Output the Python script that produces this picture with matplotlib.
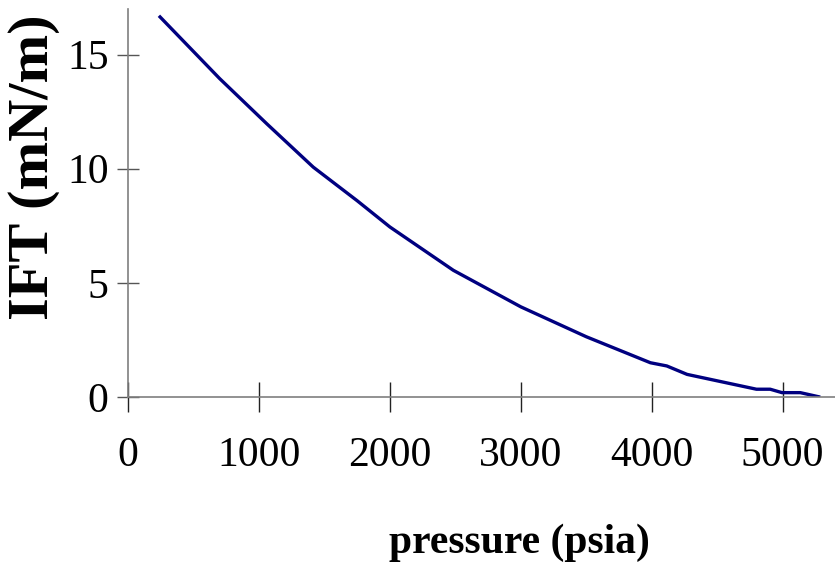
import matplotlib
matplotlib.use('Agg')
import matplotlib.pyplot as plt

# IFT vs pressure
pressure = [245, 700, 1060, 1415, 1750, 2000, 2485, 3000, 3500, 3990,
            4115, 4270, 4800, 4905, 4995, 5135, 5275]
ift = [16.65, 13.95, 11.97, 10.07, 8.6, 7.45, 5.55, 3.95, 2.64, 1.5,
       1.36, 0.99, 0.34, 0.34, 0.19, 0.19, 0.01]
xticks = [0, 1000, 2000, 3000, 4000, 5000]
yticks = [0, 5, 10, 15]

plt.rcParams['font.family'] = ['Liberation Serif', 'DejaVu Serif']

fig = plt.figure(figsize=(8.35, 5.75), dpi=100)
ax = fig.add_axes([0.1533, 0.3096, 0.8467, 0.6748])

ax.plot(pressure, ift, color='#000080', linewidth=2.4)

ax.set_xlim(0, 5400)
ax.set_ylim(0, 17)
ax.set_xticks(xticks)
ax.set_yticks(yticks)

for side in ['top', 'right']:
    ax.spines[side].set_visible(False)
for side in ['left', 'bottom']:
    ax.spines[side].set_color('#7f7f7f')
    ax.spines[side].set_linewidth(1.2)

ax.tick_params(axis='x', direction='inout', length=21.6, width=1.0,
               color='#222222', labelsize=30, pad=18)
ax.tick_params(axis='y', direction='inout', length=15.8, width=1.0,
               color='#555555', labelsize=30, pad=6)

ax.set_xlabel('pressure (psia)', fontsize=30, fontweight='bold')
ax.xaxis.set_label_coords(0.554, -0.376)
ax.xaxis.label.set_va('center')
ax.set_ylabel('IFT (mN/m)', fontsize=42, fontweight='bold')
ax.yaxis.set_label_coords(-0.133, 0.593)
ax.yaxis.label.set_va('center')

fig.savefig('out.png', dpi=100)
